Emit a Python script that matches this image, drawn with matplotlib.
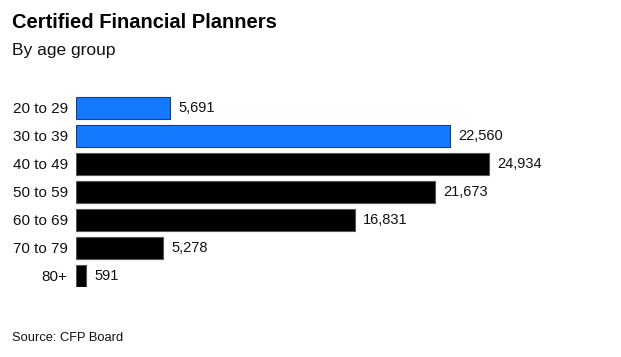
import matplotlib.pyplot as plt

# data
age_groups = ['20 to 29', '30 to 39', '40 to 49', '50 to 59', '60 to 69', '70 to 79', '80+']
planners = [5691, 22560, 24934, 21673, 16831, 5278, 591]
highlight = [True, True, False, False, False, False, False]

plt.rcParams['font.family'] = ['Liberation Sans', 'DejaVu Sans']

fig = plt.figure(figsize=(6.21, 3.57), dpi=100)
ax = fig.add_axes([76 / 621, 1 - 287 / 357, (600 - 76) / 621, (287 - 91) / 357])

colors = ['#1479FF' if h else '#000000' for h in highlight]
edges = ['#1a3f7a' if h else '#555555' for h in highlight]
y = list(range(len(age_groups)))
bars = ax.barh(y, planners, height=0.8, color=colors, edgecolor=edges, linewidth=0.8)

for yi, v in zip(y, planners):
    ax.annotate(f'{v:,}', (v, yi), xytext=(6, 0), textcoords='offset points',
                va='center', ha='left', fontsize=10.5, color='#111111')

ax.set_yticks(y)
ax.set_yticklabels(age_groups, fontsize=11, color='#111111')
ax.tick_params(axis='y', length=0, pad=6)
ax.set_xticks([])
ax.set_xlim(0, 31640)
ax.set_ylim(len(age_groups) - 0.6, -0.6)
for s in ax.spines.values():
    s.set_visible(False)

fig.text(12 / 621, 1 - 22 / 357, 'Certified Financial Planners', fontsize=14.5,
         fontweight='bold', va='center', ha='left', color='#000000')
fig.text(12 / 621, 1 - 50 / 357, 'By age group', fontsize=12.5,
         va='center', ha='left', color='#111111')
fig.text(12 / 621, 1 - 338 / 357, 'Source: CFP Board', fontsize=9.3,
         va='center', ha='left', color='#111111')

fig.savefig('out.png', dpi=100)
